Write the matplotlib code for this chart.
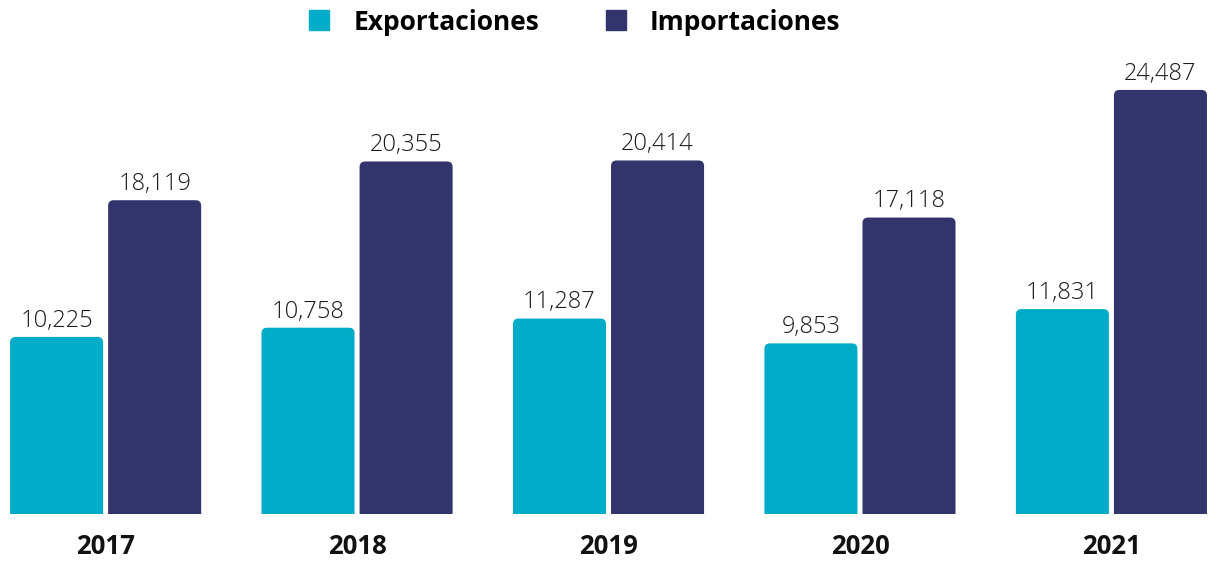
import matplotlib
matplotlib.use("Agg")
from matplotlib import pyplot as plt
from matplotlib.patches import FancyBboxPatch

years = ["2017", "2018", "2019", "2020", "2021"]
exportaciones = [10225, 10758, 11287, 9853, 11831]
importaciones = [18119, 20355, 20414, 17118, 24487]

c_exp = "#00acc8"
c_imp = "#32356b"

plt.rcParams["font.family"] = ["Open Sans", "DejaVu Sans"]

fig = plt.figure(figsize=(12.11, 5.61), dpi=100)
ax = fig.add_axes([0, 47 / 561, 1, 514 / 561])

w = 0.37
off = 0.195
xs = list(range(len(years)))

b1 = ax.bar([x - off for x in xs], exportaciones, w, color=c_exp)
b2 = ax.bar([x + off for x in xs], importaciones, w, color=c_imp)

ax.set_xlim(-0.42, 4.396)
ax.set_ylim(0, 29680)

# rounded top corners
asp = (29680 / 514) / (4.816 / 1211)
for bars in (b1, b2):
    for p in bars:
        x0, h, bw = p.get_x(), p.get_height(), p.get_width()
        p.set_visible(False)
        r = 0.022
        fb = FancyBboxPatch((x0, -r * asp), bw, h + r * asp,
                            boxstyle="round,pad=0,rounding_size=%f" % r,
                            mutation_aspect=asp, facecolor=p.get_facecolor(),
                            edgecolor="none", clip_on=True)
        ax.add_patch(fb)
        ax.annotate("{:,}".format(int(h)), (x0 + bw / 2, h), xytext=(0, 3),
                    textcoords="offset points", ha="center", va="bottom",
                    fontsize=17, fontweight="light", color="#1a1a1a")

ax.set_xticks(xs)
ax.set_xticklabels(years, fontsize=18.5, fontweight="bold", color="#111111")
ax.tick_params(axis="x", length=0, pad=14)
ax.set_yticks([])
for s in ax.spines.values():
    s.set_visible(False)

h1 = plt.Line2D([], [], marker="s", linestyle="none", markersize=14.4, color=c_exp)
h2 = plt.Line2D([], [], marker="s", linestyle="none", markersize=14.4, color=c_imp)
fig.legend([h1, h2], ["Exportaciones", "Importaciones"], loc="center",
           bbox_to_anchor=(0.4744, 1 - 22 / 561), ncol=2, frameon=False,
           prop={"size": 19, "weight": "bold"}, handlelength=0.8,
           handletextpad=0.9, columnspacing=2.5, borderaxespad=0, borderpad=0)

fig.savefig("out.png", dpi=100)
